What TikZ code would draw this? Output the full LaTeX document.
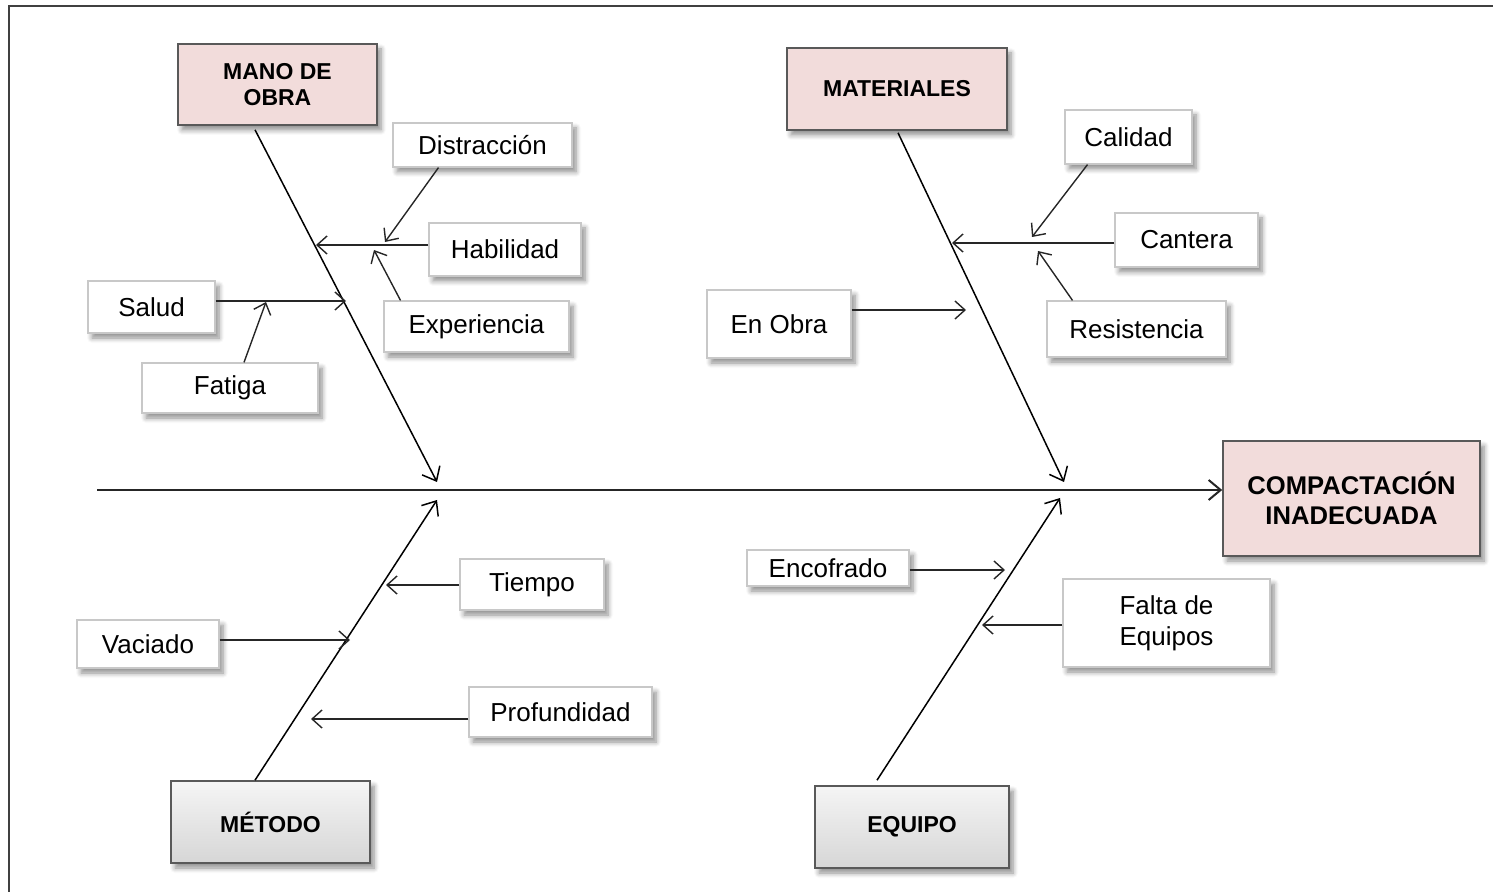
\documentclass[tikz,border=0pt]{standalone}
\usepackage{fontspec}
\setmainfont{Liberation Sans}
\usetikzlibrary{arrows.meta,shadows.blur,calc}
\definecolor{headpink}{HTML}{F2DCDB}
\definecolor{edgegray}{HTML}{595959}
\definecolor{boxgray}{HTML}{C8C8C8}
\definecolor{framegray}{HTML}{404040}

\begin{document}
\begin{tikzpicture}[x=0.5pt,y=-0.5pt,
  softshadow/.style={blur shadow={shadow xshift=2pt,shadow yshift=-2.5pt,
      shadow blur radius=2.5pt,shadow blur steps=6,shadow opacity=45}},
  category/.style={draw=edgegray,line width=0.8pt,softshadow,align=center,
      inner sep=0pt,font=\bfseries\fontsize{11.5}{13}\selectfont},
  pinkhead/.style={category,fill=headpink},
  grayhead/.style={category,top color=gray!8,bottom color=gray!32},
  effect/.style={draw=edgegray,line width=0.8pt,fill=headpink,softshadow,
      align=center,inner sep=0pt,font=\bfseries\fontsize{12.8}{15}\selectfont},
  cause/.style={draw=boxgray,line width=0.6pt,fill=white,softshadow,
      align=center,inner sep=0pt,font=\fontsize{13}{15.5}\selectfont},
  bone/.style={draw=black,line width=0.75pt,-{Straight Barb[length=6pt,width=10pt]}},
  twig/.style={draw=black!85,line width=0.7pt,-{Straight Barb[length=5pt,width=9pt]}},
  spineline/.style={draw=black!85,line width=1pt,-{Straight Barb[length=6pt,width=10pt]}}
]
\useasboundingbox (0,0) rectangle (1493,892);

% outer frame (top and left edges)
\draw[framegray,line width=1pt] (1493,6) -- (9,6) -- (9,892);

% category heads and effect
\node[pinkhead,minimum width=99.5pt,minimum height=40.5pt] (mo) at (277.5,84.5) {MANO DE\\OBRA};
\node[pinkhead,minimum width=110pt,minimum height=41pt] (ma) at (897,89) {MATERIALES};
\node[grayhead,minimum width=99.5pt,minimum height=41pt] (me) at (270.5,822) {MÉTODO};
\node[grayhead,minimum width=97pt,minimum height=41pt] (eq) at (912,827) {EQUIPO};
\node[effect,minimum width=128.5pt,minimum height=57.5pt] (eff) at (1351.5,498.5) {COMPACTACIÓN\\INADECUADA};

% causes
\node[cause,minimum width=89.5pt,minimum height=22pt] (dis) at (482.5,145) {Distracción};
\node[cause,minimum width=76pt,minimum height=26.5pt] (hab) at (505,249.5) {Habilidad};
\node[cause,minimum width=92.5pt,minimum height=25.5pt] (exp) at (476.5,326.5) {Experiencia};
\node[cause,minimum width=63.5pt,minimum height=26pt] (sal) at (151.5,307) {Salud};
\node[cause,minimum width=88pt,minimum height=25pt] (fat) at (230,388) {Fatiga};
\node[cause,minimum width=63.5pt,minimum height=27pt] (cal) at (1128.5,137) {Calidad};
\node[cause,minimum width=71.5pt,minimum height=27pt] (can) at (1186.5,240) {Cantera};
\node[cause,minimum width=89.5pt,minimum height=28pt] (res) at (1136.5,329) {Resistencia};
\node[cause,minimum width=72pt,minimum height=34pt] (obr) at (779,324) {En Obra};
\node[cause,minimum width=72pt,minimum height=25.5pt] (tie) at (532,584.5) {Tiempo};
\node[cause,minimum width=71pt,minimum height=24pt] (vac) at (148,644) {Vaciado};
\node[cause,minimum width=91.5pt,minimum height=25pt] (pro) at (560.5,712) {Profundidad};
\node[cause,minimum width=81pt,minimum height=18pt] (enc) at (828,568) {Encofrado};
\node[cause,minimum width=103.5pt,minimum height=44pt] (fal) at (1166.5,623) {Falta de\\Equipos};

% points where arrows meet the spine and the bones
\coordinate (spine) at (97,490);
\coordinate (mo-tip) at (437,482);
\coordinate (ma-tip) at (1064,482);
\coordinate (me-tip) at (437,500);
\coordinate (eq-tip) at (1060,498);
\coordinate (h-hab) at (316,245);
\coordinate (h-dis) at (385,242);
\coordinate (h-exp) at (374,250);
\coordinate (h-sal) at (346,301);
\coordinate (h-fat) at (266,302);
\coordinate (m-cal) at (1032,237);
\coordinate (m-can) at (952,243);
\coordinate (m-res) at (1038,251);
\coordinate (m-obr) at (966,310);
\coordinate (t-tie) at (386,585);
\coordinate (t-vac) at (350,640);
\coordinate (t-pro) at (311,719);
\coordinate (e-enc) at (1005,570);
\coordinate (e-fal) at (982,625);

% spine and main bones
\draw[spineline] (spine) -- (spine -| eff.west);
\draw[bone] ($(mo.south)+(-22.5,4)$) -- (mo-tip);
\draw[bone] ($(ma.south)+(1,2)$) -- (ma-tip);
\draw[bone] ($(me.north)+(-15.5,0)$) -- (me-tip);
\draw[bone] ($(eq.north)+(-35,-5)$) -- (eq-tip);

% sub-cause arrows
\draw[twig] (h-hab -| hab.west) -- (h-hab);
\draw[twig] ($(dis.south)+(-44,0)$) -- (h-dis);
\draw[twig] ($(exp.north)+(-76,0)$) -- (h-exp);
\draw[twig] (h-sal -| sal.east) -- (h-sal);
\draw[twig] ($(fat.north)+(14,0)$) -- (h-fat);
\draw[twig] ($(cal.south)+(-41,0)$) -- (m-cal);
\draw[twig] (m-can -| can.west) -- (m-can);
\draw[twig] ($(res.north)+(-64,0)$) -- (m-res);
\draw[twig] (m-obr -| obr.east) -- (m-obr);
\draw[twig] (t-tie -| tie.west) -- (t-tie);
\draw[twig] (t-vac -| vac.east) -- (t-vac);
\draw[twig] (t-pro -| pro.west) -- (t-pro);
\draw[twig] (e-enc -| enc.east) -- (e-enc);
\draw[twig] (e-fal -| fal.west) -- (e-fal);
\end{tikzpicture}
\end{document}
